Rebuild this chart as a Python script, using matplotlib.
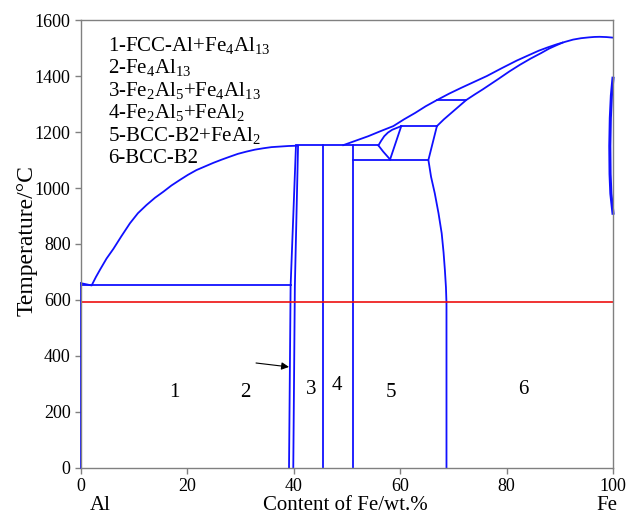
import matplotlib
matplotlib.use("Agg")
import matplotlib.pyplot as plt

plt.rcParams['font.family'] = ['Liberation Serif', 'DejaVu Serif']
plt.rcParams['mathtext.fontset'] = 'custom'
plt.rcParams['mathtext.rm'] = 'Liberation Serif'
plt.rcParams['mathtext.it'] = 'Liberation Serif'

# liquidus, Al side (x = wt.% Fe, T in degC)
liq_left_x = [0, 2, 2.8, 3.6, 4.8, 6.1, 7.6, 9.2, 10.7, 12.3, 13.9, 15.5, 17, 18.6, 20.1,
              21.7, 23.3, 24.9, 26.4, 28, 29.5, 31.1, 32.7, 34.3, 35.8, 37.4, 39, 40.6]
liq_left_t = [660, 652, 682, 709, 748, 783, 828, 874, 910, 939, 965, 987, 1009, 1029, 1047,
              1064, 1077, 1090, 1101, 1112, 1122, 1130, 1137, 1142, 1146, 1148, 1150, 1151]
# liquidus, Fe side
liq_right_x = [49.3, 51.5, 54, 56.3, 58.7, 60.7, 62.8, 64.8, 66.9, 69.2, 71.5, 73.9, 76.3,
               79.1, 81.9, 84, 86, 87.7, 89.4, 91, 92.5, 94, 95.5, 96.5, 97.5, 98.8, 100]
liq_right_t = [1153, 1168, 1185, 1203, 1221, 1245, 1268, 1292, 1314, 1337, 1358, 1379, 1400,
               1428, 1455, 1473, 1490, 1502, 1513, 1522, 1530, 1535, 1538, 1539.5, 1540, 1539, 1537]
# BCC solidus
sol_x = [66.9, 68.2, 69.6, 71, 72.4, 74, 75.5, 77, 78.5, 80.5, 82.5, 84.5, 86.5, 88, 89.4, 90.5]
sol_t = [1221, 1245, 1268, 1291, 1314, 1334, 1352, 1371, 1390, 1416, 1440, 1462, 1482, 1498, 1510, 1519]
# gamma loop at the Fe side
loop_x = [100, 99.7, 99.5, 99.4, 99.45, 99.6, 100]
loop_t = [1392, 1330, 1250, 1150, 1050, 980, 910]
# Fe4Al13 phase limits
fe4_left_x = [39.1, 39.4, 40.4]
fe4_left_t = [0, 650, 1148]
fe4_right_x = [39.9, 40.2, 40.8]
fe4_right_t = [0, 650, 1150]
# BCC-B2 / FeAl2 boundary
b2_x = [66.9, 65.3, 65.8, 66.5, 67.2, 67.8, 68.15, 68.4, 68.6, 68.7, 68.7, 68.7]
b2_t = [1221, 1100, 1040, 981, 910, 838, 770, 707, 645, 588, 300, 0]
# small triangle near 1100-1220
tri_a_x = [55.9, 56.4, 57.0, 57.7, 58.5, 60.2]
tri_a_t = [1152, 1168, 1185, 1198, 1208, 1221]
tri_b_x = [55.9, 56.8, 58.1]
tri_b_t = [1152, 1130, 1102]
tri_c_x = [60.2, 58.1]
tri_c_t = [1221, 1102]

# straight segments: (x0, x1, t0, t1)
segments = [
    (0, 0, 0, 660),
    (0, 39.4, 652, 652),
    (40.4, 55.9, 1152, 1152),
    (45.5, 45.5, 0, 1152),
    (51.1, 51.1, 0, 1152),
    (51.1, 65.3, 1100, 1100),
    (60.2, 66.9, 1221, 1221),
    (66.9, 72.4, 1314, 1314),
]

red_t = 592

region_labels = ['1', '2', '3', '4', '5', '6']
region_x = [17.5, 30.8, 43.2, 48.1, 58.3, 83.1]
region_t = [271, 271, 279, 293, 271, 279]

legend_lines = [
    r'1-FCC-Al+Fe$\mathregular{_4}$Al$\mathregular{_{13}}$',
    r'2-Fe$\mathregular{_4}$Al$\mathregular{_{13}}$',
    r'3-Fe$\mathregular{_2}$Al$\mathregular{_5}$+Fe$\mathregular{_4}$Al$\mathregular{_{13}}$',
    r'4-Fe$\mathregular{_2}$Al$\mathregular{_5}$+FeAl$\mathregular{_2}$',
    r'5-BCC-B2+FeAl$\mathregular{_2}$',
    '6-BCC-B2',
]
legend_t = [1489, 1409, 1329, 1249, 1169, 1089]

blue = '#1010ff'
lw = 1.3

fig = plt.figure(figsize=(6.29, 5.24), dpi=100)
ax = fig.add_axes([81 / 629, 56 / 524, 532 / 629, 448 / 524])

curves = [
    (liq_left_x, liq_left_t), (liq_right_x, liq_right_t), (sol_x, sol_t),
    (fe4_left_x, fe4_left_t), (fe4_right_x, fe4_right_t), (b2_x, b2_t),
    (tri_a_x, tri_a_t), (tri_b_x, tri_b_t), (tri_c_x, tri_c_t),
]
for cx, ct in curves:
    ax.plot(cx, ct, color=blue, lw=lw, clip_on=False)
ax.plot(loop_x, loop_t, color=blue, lw=2.2, clip_on=False)
for x0, x1, t0, t1 in segments:
    ax.plot([x0, x1], [t0, t1], color=blue, lw=lw, clip_on=False)

ax.axhline(red_t, color='#ee1111', lw=1.2)

for lab, x, t in zip(region_labels, region_x, region_t):
    ax.text(x, t, lab, fontsize=15, ha='center', va='center')

ax.annotate('', xy=(39.1, 361), xytext=(32.9, 375),
            arrowprops=dict(arrowstyle='-|>', color='black', lw=0.8,
                            mutation_scale=11, shrinkA=0, shrinkB=0))

for txt, t in zip(legend_lines, legend_t):
    ax.text(5.1, t, txt, fontsize=15, ha='left', va='baseline')

ax.set_xlim(0, 100)
ax.set_ylim(0, 1600)
ax.set_xticks([0, 20, 40, 60, 80, 100])
ax.set_yticks([0, 200, 400, 600, 800, 1000, 1200, 1400, 1600])
ax.tick_params(direction='out', length=4, width=1, color='#808080',
               labelsize=13, top=False, right=False)
for sp in ax.spines.values():
    sp.set_color('#808080')
    sp.set_linewidth(1)

fig.text(27 / 629, 1 - 241 / 524, 'Temperature/°C', fontsize=17, rotation=90,
         ha='center', va='center')
fig.text(100 / 629, 1 - 505 / 524, 'Al', fontsize=15, ha='center', va='center')
fig.text(345 / 629, 1 - 505 / 524, 'Content of Fe/wt.%', fontsize=15, ha='center', va='center')
fig.text(607 / 629, 1 - 505 / 524, 'Fe', fontsize=15, ha='center', va='center')

fig.savefig('out.png', dpi=100)
